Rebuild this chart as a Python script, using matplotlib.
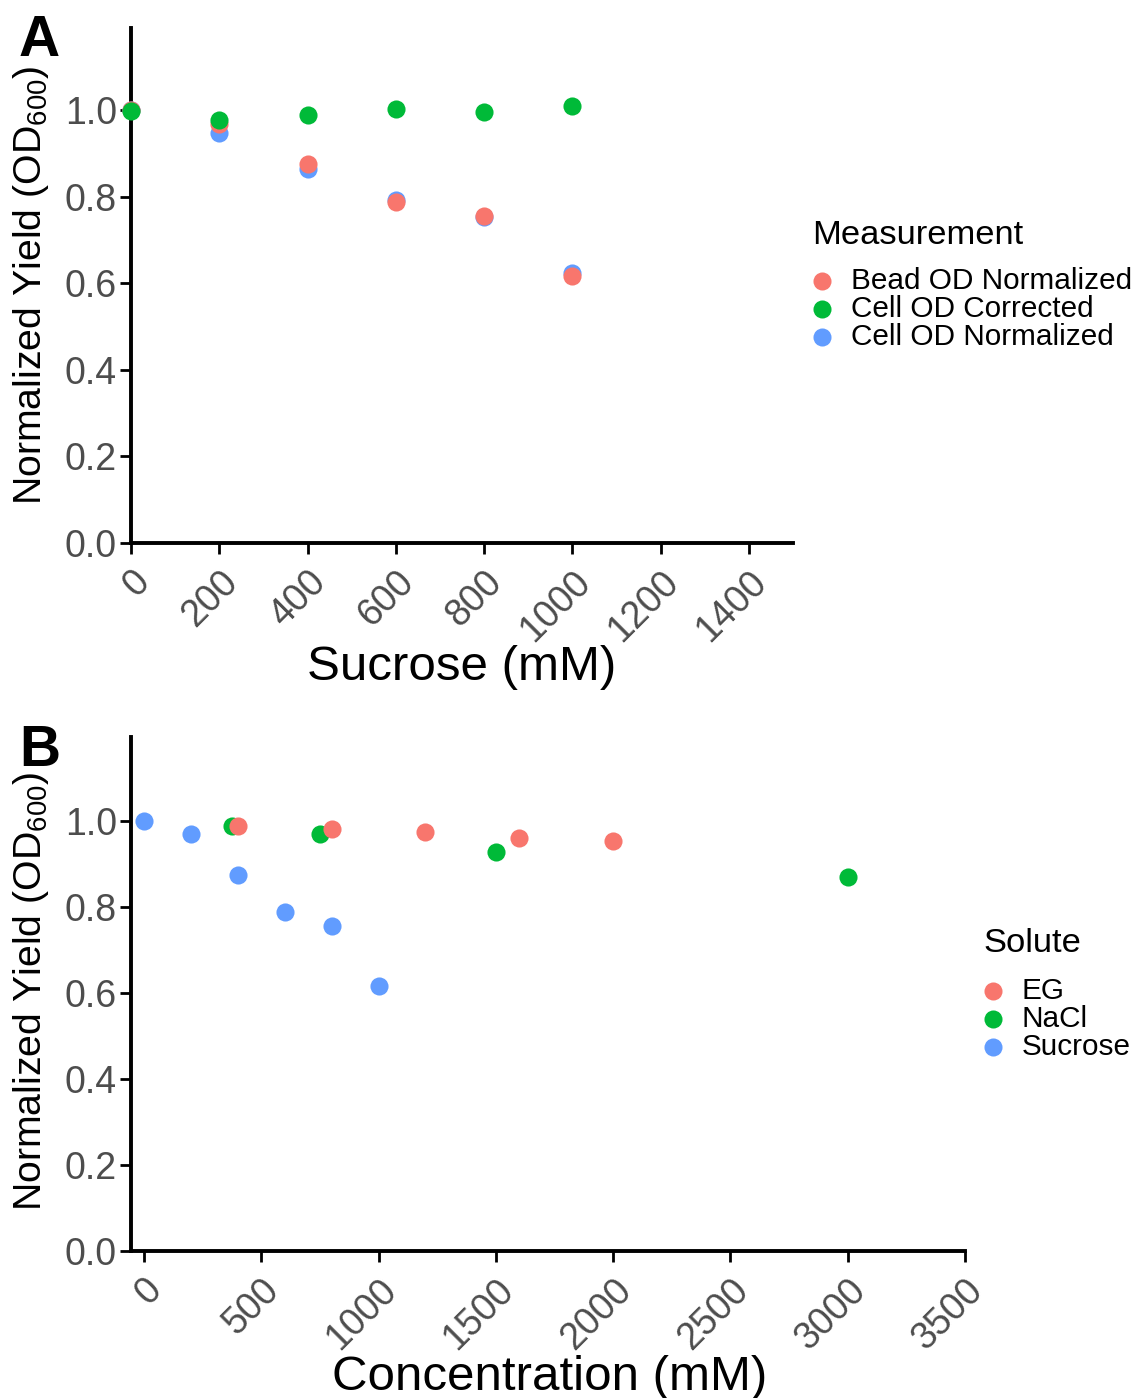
import matplotlib
matplotlib.use("Agg")
import matplotlib.pyplot as plt
from matplotlib.lines import Line2D

plt.rcParams['font.family'] = ['Liberation Sans', 'DejaVu Sans']
plt.rcParams['mathtext.fontset'] = 'custom'
plt.rcParams['mathtext.rm'] = 'Liberation Sans'

# Panel A: sucrose series
sucrose_mM = [0, 200, 400, 600, 800, 1000]
bead_od_normalized = [1.0, 0.969, 0.875, 0.787, 0.756, 0.616]
cell_od_corrected = [0.998, 0.978, 0.988, 1.002, 0.995, 1.010]
cell_od_normalized = [1.0, 0.948, 0.865, 0.792, 0.754, 0.624]

# Panel B: yield against solute concentration
eg_mM = [400, 800, 1200, 1600, 2000]
eg_yield = [0.988, 0.981, 0.974, 0.961, 0.954]
nacl_mM = [375, 750, 1500, 3000]
nacl_yield = [0.989, 0.970, 0.927, 0.870]
suc_mM = [0, 200, 400, 600, 800, 1000]
suc_yield = [1.0, 0.969, 0.875, 0.787, 0.756, 0.616]

RED, GREEN, BLUE = '#F8766D', '#00BA38', '#619CFF'
yticks = [0.0, 0.2, 0.4, 0.6, 0.8, 1.0]

W, H = 1134, 1398
fig = plt.figure(figsize=(W / 100, H / 100), dpi=100)


def axes_px(l, t, r, b):
    return fig.add_axes([l / W, 1 - b / H, (r - l) / W, (b - t) / H])


def style(ax, xlim, ylim, xticks, xlabel):
    ax.set_xlim(*xlim)
    ax.set_ylim(*ylim)
    for s in ['top', 'right']:
        ax.spines[s].set_visible(False)
    for s in ['left', 'bottom']:
        ax.spines[s].set_linewidth(2.8)
        ax.spines[s].set_color('black')
    ax.set_yticks(yticks)
    ax.set_yticklabels([f'{v:.1f}' for v in yticks])
    ax.set_xticks(xticks)
    ax.set_xticklabels([str(v) for v in xticks], rotation=45,
                       ha='right', va='top', rotation_mode='anchor')
    ax.tick_params(axis='both', direction='out', length=8, width=2,
                   color='black', labelsize=27, labelcolor='#4D4D4D')
    ax.tick_params(axis='y', pad=2)
    ax.tick_params(axis='x', pad=7)
    ax.set_xlabel(xlabel, fontsize=35.5, color='black')
    ax.xaxis.label.set_va('center')
    ax.patch.set_alpha(0)


ms = 170

# ---- Panel A ----
axA = axes_px(131, 28, 793, 543)
axA.scatter(sucrose_mM, cell_od_normalized, s=ms, color=BLUE, lw=0, zorder=3, clip_on=False)
axA.scatter(sucrose_mM, bead_od_normalized, s=ms, color=RED, lw=0, zorder=4, clip_on=False)
axA.scatter(sucrose_mM, cell_od_corrected, s=ms, color=GREEN, lw=0, zorder=5, clip_on=False)
style(axA, (0, 1500), (0, 1.19), list(range(0, 1401, 200)), 'Sucrose (mM)')
axA.xaxis.set_label_coords(0.5, -(668 - 543) / 515)

# ---- Panel B ----
axB = axes_px(131, 737, 965, 1251)
axB.scatter(nacl_mM, nacl_yield, s=ms, color=GREEN, lw=0, zorder=3, clip_on=False)
axB.scatter(eg_mM, eg_yield, s=ms, color=RED, lw=0, zorder=4, clip_on=False)
axB.scatter(suc_mM, suc_yield, s=ms, color=BLUE, lw=0, zorder=5, clip_on=False)
style(axB, (-55, 3500), (0, 1.195), list(range(0, 3501, 500)), 'Concentration (mM)')
axB.xaxis.set_label_coords((550 - 131) / (965 - 131), -(1378 - 1251) / 514)

ylabel = r'Normalized Yield (OD$_{\mathrm{600}}$)'
fig.text(31 / W, 1 - 285 / H, ylabel, rotation=90, ha='center', va='center', fontsize=28.3)
fig.text(31 / W, 1 - 991 / H, ylabel, rotation=90, ha='center', va='center', fontsize=28.3)

fig.text(19 / W, 1 - 41 / H, 'A', fontsize=41, fontweight='bold', ha='left', va='center')
fig.text(19 / W, 1 - 751 / H, 'B', fontsize=41, fontweight='bold', ha='left', va='center')


def legend(title, labels, colors, x, y_title, y0, step):
    fig.text(x / W, 1 - y_title / H, title, fontsize=24.8, ha='left', va='center')
    for i, (lab, c) in enumerate(zip(labels, colors)):
        yy = y0 + i * step
        fig.add_artist(Line2D([(x + 10) / W], [1 - yy / H], marker='o', markersize=13,
                              color=c, markeredgewidth=0, linestyle='none',
                              transform=fig.transFigure))
        fig.text((x + 39) / W, 1 - yy / H, lab, fontsize=21.4, ha='left', va='center')


legend('Measurement', ['Bead OD Normalized', 'Cell OD Corrected', 'Cell OD Normalized'],
       [RED, GREEN, BLUE], 812, 235, 281, 28)
legend('Solute', ['EG', 'NaCl', 'Sucrose'], [RED, GREEN, BLUE], 983, 944, 991, 28)

fig.savefig('out.png', dpi=100)
